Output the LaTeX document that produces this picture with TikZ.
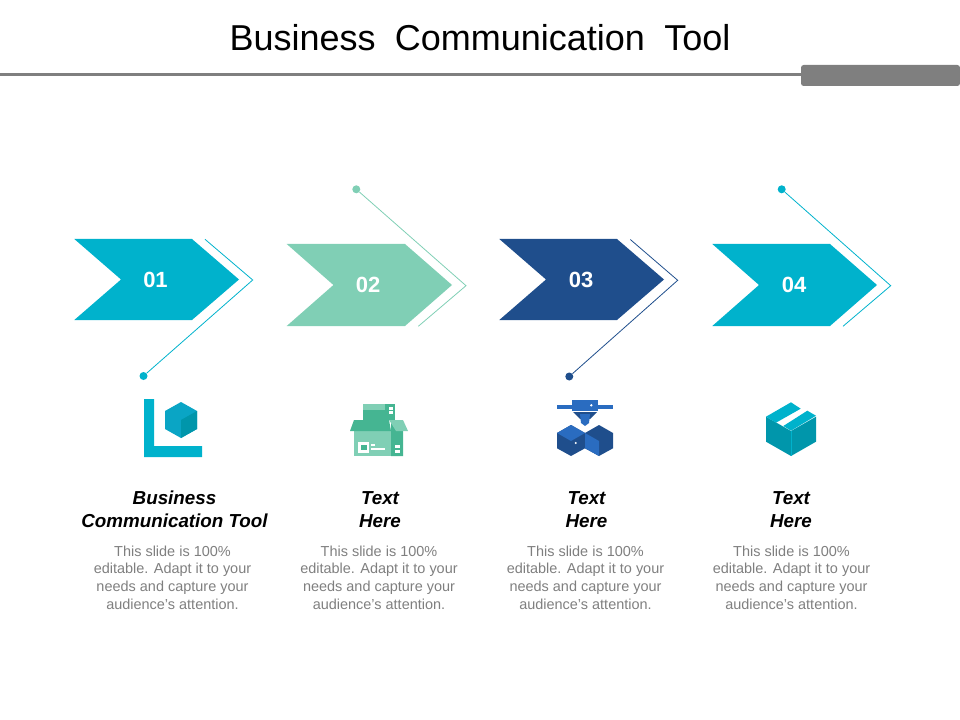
\documentclass[tikz,border=0pt]{standalone}
\usepackage{fontspec}
\setmainfont{Liberation Sans}
\usetikzlibrary{positioning}
\definecolor{tealc}{HTML}{00B2CC}
\definecolor{tealdark}{HTML}{0096AB}
\definecolor{cubec}{HTML}{0AA5C5}
\definecolor{mintc}{HTML}{80CFB5}
\definecolor{mintdark}{HTML}{45B592}
\definecolor{navyc}{HTML}{1F4E8C}
\definecolor{bluec}{HTML}{2A6CC0}
\definecolor{rulec}{HTML}{7F7F7F}
\definecolor{bodyc}{HTML}{7F7F7F}
\tikzset{
    numlabel/.style={text=white, font=\fontsize{16.5}{17}\selectfont\bfseries},
    headlabel/.style={align=center, font=\fontsize{14.1}{17.2}\selectfont\bfseries\itshape},
    bodylabel/.style={align=center, text=bodyc, font=\fontsize{10.85}{13.3}\selectfont},
    dotnode/.style={circle, inner sep=0pt, minimum size=6pt},
    leadline/.style={line width=0.6pt},
}

\begin{document}
\begin{tikzpicture}[x=0.75pt, y=-0.75pt]
            \useasboundingbox (0, 0) rectangle (960, 720);
            % header
            \node (title) at (480, 38) {\fontsize{27}{27}\selectfont Business\hspace{0.26em} Communication\hspace{0.26em} Tool};
            \node[fill=rulec, rounded corners=2pt, minimum width=119.25pt, minimum height=15.75pt, inner sep=0pt] (band) at (880.5, 75.5) {};
            \coordinate (ruleend) at (0, 75);
            \draw[rulec, line width=2.25pt] (ruleend) -- (band.west |- ruleend);
            % chevrons
            \fill[tealc] (74.3, 239) -- (192, 239) -- (239, 279.5) -- (192, 320) -- (74.3, 320) -- (121, 279.5) -- cycle;
            \fill[mintc] (286.7, 244) -- (405, 244) -- (452, 285) -- (405, 326) -- (286.7, 326) -- (333.4, 285) -- cycle;
            \fill[navyc] (499.3, 239) -- (617, 239) -- (664, 279.5) -- (617, 320) -- (499.3, 320) -- (546, 279.5) -- cycle;
            \fill[tealc] (712.3, 244) -- (830, 244) -- (877, 285) -- (830, 326) -- (712.3, 326) -- (759, 285) -- cycle;
            \node[numlabel] (numa) at (155.5, 280) {01};
            \node[numlabel] (numb) at (368, 285) {02};
            \node[numlabel] (numc) at (581, 280) {03};
            \node[numlabel] (numd) at (794, 285) {04};
            % lead lines
            \node[dotnode, fill=tealc] (dota) at (143.5, 376) {};
            \node[dotnode, fill=mintc] (dotb) at (356.3, 189.3) {};
            \node[dotnode, fill=navyc] (dotc) at (569.3, 376.5) {};
            \node[dotnode, fill=tealc] (dotd) at (781.7, 189.3) {};
            \coordinate (tipa) at (252.7, 280);
            \coordinate (enda) at (205, 239.3);
            \coordinate (tipb) at (466, 285.7);
            \coordinate (endb) at (418.3, 326.3);
            \coordinate (tipc) at (677.7, 280.3);
            \coordinate (endc) at (630.3, 239.5);
            \coordinate (tipd) at (890.7, 285.7);
            \coordinate (endd) at (843, 326.3);
            \draw[leadline, tealc] (dota) -- (tipa) -- (enda);
            \draw[leadline, mintc] (dotb) -- (tipb) -- (endb);
            \draw[leadline, navyc] (dotc) -- (tipc) -- (endc);
            \draw[leadline, tealc] (dotd) -- (tipd) -- (endd);
            % icon 1
            \fill[tealc] (144, 399) -- (154, 399) -- (154, 446) -- (202, 446) -- (202, 457) -- (144, 457) -- cycle;
            \fill[cubec] (181, 402) -- (197, 411) -- (197, 429) -- (181, 438) -- (165, 429) -- (165, 411) -- cycle;
            \fill[tealdark] (181, 420) -- (197, 411) -- (197, 429) -- (181, 438) -- cycle;
            % icon 2
            \fill[mintc] (363, 404) rectangle (385, 410);
            \fill[mintdark] (363, 410) rectangle (385, 420);
            \fill[mintdark] (385, 404) rectangle (395, 420);
            \fill[white] (389, 407) rectangle (393, 409.5);
            \fill[white] (389, 411) rectangle (393, 413.5);
            \fill[mintc] (354, 431) rectangle (391, 456);
            \fill[mintdark] (391, 431) -- (391, 423) -- (403, 431) -- (403, 456) -- (391, 456) -- cycle;
            \fill[mintdark] (350, 431) -- (354, 420) -- (389, 420) -- (391, 431) -- cycle;
            \fill[mintc] (389, 420) -- (403, 420) -- (408, 431) -- (396, 431) -- (391, 423) -- cycle;
            \fill[white] (358, 442) rectangle (369, 452.5);
            \fill[mintdark] (360.5, 444.5) rectangle (366.5, 450);
            \fill[white] (371, 444) rectangle (375, 446);
            \fill[white] (371, 448) rectangle (385, 449.5);
            \fill[white] (395, 445) rectangle (400, 448);
            \fill[white] (395, 449.5) rectangle (400, 452.5);
            % icon 3
            \fill[bluec] (557, 405) rectangle (613, 409);
            \fill[bluec] (572.3, 400) rectangle (598, 411);
            \fill[navyc] (573, 412) -- (597, 412) -- (590, 419) -- (580, 419) -- cycle;
            \fill[bluec] (580, 414) -- (590, 414) -- (589, 423) -- (585, 426) -- (581, 423) -- cycle;
            \fill[navyc] (571, 425) -- (585, 433) -- (585, 448.3) -- (571, 456) -- (557, 448.3) -- (557, 433) -- cycle;
            \fill[bluec] (571, 425) -- (585, 433) -- (571, 441) -- (557, 433) -- cycle;
            \fill[navyc] (599, 425) -- (613, 433) -- (613, 448.3) -- (599, 456) -- (585, 448.3) -- (585, 433) -- cycle;
            \fill[bluec] (585, 433) -- (599, 441) -- (599, 456) -- (585, 448.3) -- cycle;
            \fill[white] (575.7, 443) circle (1.1);
            \fill[white] (591.3, 405.3) circle (1.3);
            % icon 4
            \fill[tealdark] (766, 416.7) -- (791, 431) -- (816, 416.7) -- (816, 441.7) -- (791, 456) -- (766, 441.7) -- cycle;
            \fill[tealc] (766, 416.7) -- (791, 402.3) -- (800.7, 408.7) -- (776, 422.7) -- cycle;
            \fill[tealc] (783.3, 426) -- (807.3, 410.7) -- (816, 415.7) -- (791, 430.7) -- cycle;
            \draw[tealc, line width=0.4pt] (791, 431) -- (791, 456);
            % captions
            \node[headlabel] (heada) at (174.5, 509.5) {Business\\Communication Tool};
            \node[headlabel] (headb) at (380, 509.5) {Text\\Here};
            \node[headlabel] (headc) at (586.5, 509.5) {Text\\Here};
            \node[headlabel] (headd) at (791, 509.5) {Text\\Here};
            \node[bodylabel] (bodya) at (172.5, 577.5) {This slide is 100\%\\editable. Adapt it to your\\needs and capture your\\audience’s attention.};
            \node[bodylabel] (bodyb) at (379, 577.5) {This slide is 100\%\\editable. Adapt it to your\\needs and capture your\\audience’s attention.};
            \node[bodylabel] (bodyc) at (585.5, 577.5) {This slide is 100\%\\editable. Adapt it to your\\needs and capture your\\audience’s attention.};
            \node[bodylabel] (bodyd) at (791.5, 577.5) {This slide is 100\%\\editable. Adapt it to your\\needs and capture your\\audience’s attention.};
        \end{tikzpicture}
\end{document}
